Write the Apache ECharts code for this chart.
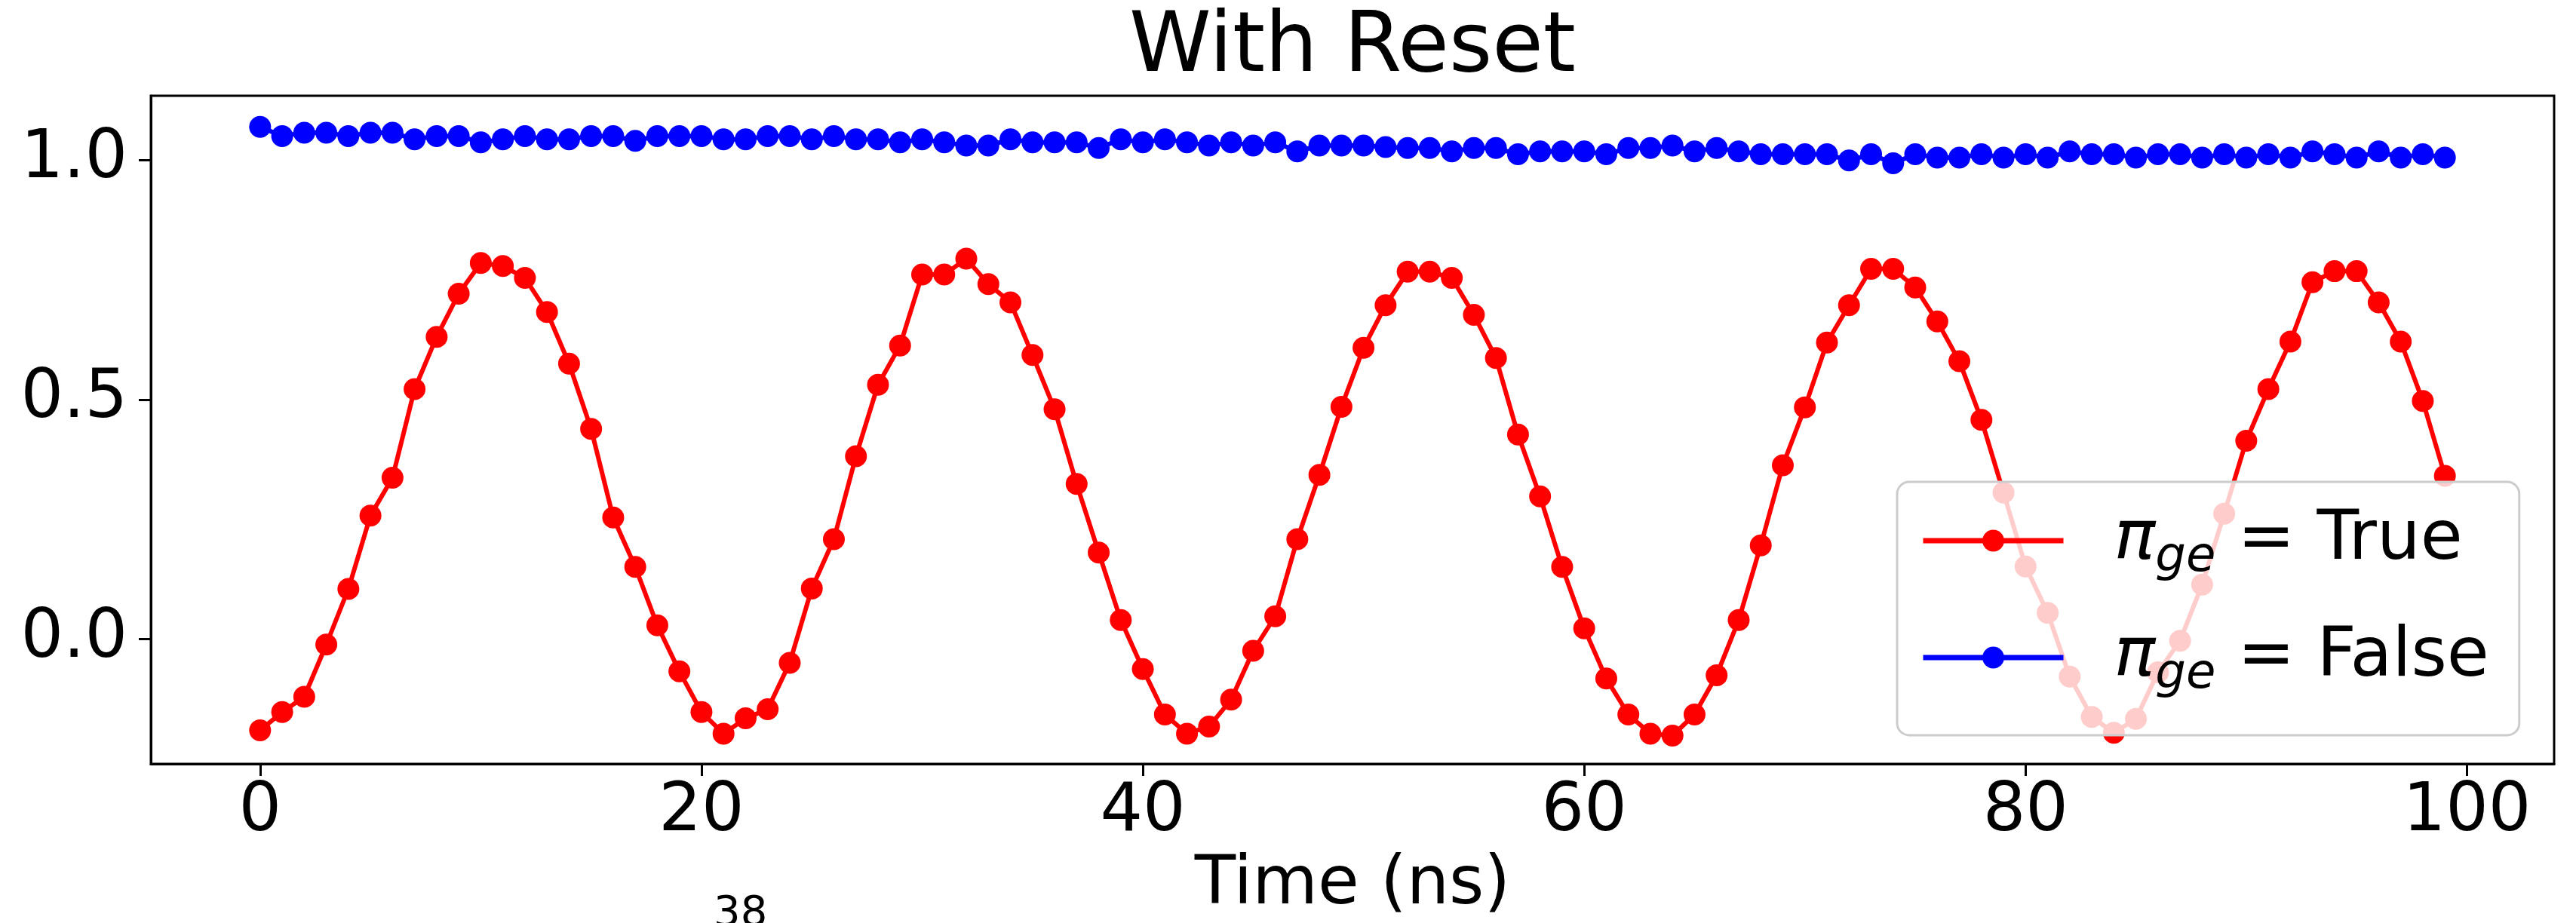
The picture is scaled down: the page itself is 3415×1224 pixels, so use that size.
<!DOCTYPE html>
<html><head><meta charset="utf-8">
<script src="https://cdn.jsdelivr.net/npm/echarts@6/dist/echarts.min.js"></script>
<style>html,body{margin:0;padding:0;background:#fff}#c{width:3415px;height:1224px}</style>
</head><body><div id="c"></div>
<script>
const titleText = 'With Reset';
const xAxisName = 'Time (ns)';
const timeNs = [0,1,2,3,4,5,6,7,8,9,10,11,12,13,14,15,16,17,18,19,20,21,22,23,24,25,26,27,28,29,30,31,32,33,34,35,36,37,38,39,40,41,42,43,44,45,46,47,48,49,50,51,52,53,54,55,56,57,58,59,60,61,62,63,64,65,66,67,68,69,70,71,72,73,74,75,76,77,78,79,80,81,82,83,84,85,86,87,88,89,90,91,92,93,94,95,96,97,98,99];
const piTrue = [-0.190,-0.152,-0.120,-0.011,0.105,0.258,0.337,0.522,0.631,0.721,0.785,0.779,0.754,0.683,0.575,0.439,0.254,0.151,0.029,-0.067,-0.152,-0.197,-0.165,-0.146,-0.049,0.106,0.209,0.382,0.531,0.613,0.761,0.761,0.794,0.741,0.703,0.593,0.480,0.324,0.181,0.040,-0.062,-0.157,-0.197,-0.182,-0.126,-0.024,0.048,0.209,0.343,0.485,0.608,0.697,0.767,0.767,0.754,0.677,0.587,0.427,0.298,0.151,0.023,-0.082,-0.157,-0.197,-0.201,-0.157,-0.075,0.040,0.196,0.363,0.484,0.619,0.697,0.773,0.773,0.734,0.663,0.580,0.458,0.306,0.152,0.055,-0.078,-0.162,-0.195,-0.166,-0.069,-0.003,0.114,0.262,0.414,0.522,0.621,0.745,0.768,0.768,0.703,0.621,0.497,0.341];
const piFalse = [1.069,1.050,1.057,1.057,1.050,1.057,1.057,1.043,1.050,1.050,1.037,1.043,1.050,1.043,1.043,1.050,1.050,1.040,1.050,1.050,1.050,1.043,1.043,1.050,1.050,1.043,1.050,1.043,1.043,1.037,1.043,1.037,1.030,1.030,1.043,1.037,1.037,1.037,1.025,1.043,1.037,1.043,1.037,1.030,1.037,1.030,1.037,1.018,1.030,1.030,1.030,1.027,1.025,1.025,1.018,1.025,1.025,1.012,1.018,1.018,1.018,1.012,1.025,1.025,1.030,1.018,1.025,1.018,1.012,1.012,1.012,1.012,0.999,1.012,0.993,1.012,1.005,1.005,1.012,1.005,1.012,1.005,1.018,1.012,1.012,1.005,1.012,1.012,1.005,1.012,1.005,1.012,1.005,1.018,1.012,1.005,1.018,1.005,1.012,1.005];
const xTicks = [0,20,40,60,80,100];
const yTicks = [0,0.5,1.0];
const seriesNames = ['π_ge = True','π_ge = False'];
const seriesColors = ['#ff0000','#0000ff'];
const seriesValues = [piTrue, piFalse];

const FONT = 'DejaVu Sans';
const chart = echarts.init(document.getElementById('c'), null, {renderer:'canvas'});
chart.setOption({
  animation: false,
  backgroundColor: '#ffffff',
  title: {
    text: titleText, left: 1793, top: 10, padding: 0, textAlign: 'center',
    textStyle: {fontFamily: FONT, fontSize: 110, fontWeight: 'normal', color: '#000'}
  },
  grid: {left: 200, right: 29, top: 127, bottom: 208, show: true, borderColor: '#000', borderWidth: 3, backgroundColor: 'transparent'},
  xAxis: {
    type: 'value', min: -4.95, max: 103.95,
    name: xAxisName, nameLocation: 'middle', nameGap: 117,
    nameTextStyle: {fontFamily: FONT, fontSize: 89, color: '#000'},
    axisLine: {show: true, onZero: false, lineStyle: {color: '#000', width: 3}},
    axisTick: {show: true, inside: false, length: 16, lineStyle: {color: '#000', width: 3}, customValues: xTicks},
    axisLabel: {show: true, margin: 20, fontFamily: FONT, fontSize: 89, color: '#000', customValues: xTicks},
    splitLine: {show: false}
  },
  yAxis: {
    type: 'value', min: -0.26, max: 1.134,
    axisLine: {show: true, onZero: false, lineStyle: {color: '#000', width: 3}},
    axisTick: {show: true, inside: false, length: 16, lineStyle: {color: '#000', width: 3}, customValues: yTicks},
    axisLabel: {show: true, margin: 31, fontFamily: FONT, fontSize: 89, color: '#000', customValues: yTicks,
      formatter: v => Number(v).toFixed(1)},
    splitLine: {show: false}
  },
  legend: {
    orient: 'vertical', left: 2515, top: 639,
    padding: [23, 40, 48, 31],
    itemWidth: 186, itemHeight: 36, itemGap: 45,
    backgroundColor: 'rgba(255,255,255,0.8)', borderColor: '#cccccc', borderWidth: 3, borderRadius: 16,
    lineStyle: {width: 7},
    data: seriesNames,
    formatter: function (name) {
      const m = name.match(/^π_ge = (.*)$/);
      return '{pi|π}{sub|ge}{txt| = ' + (m ? m[1] : name) + '}';
    },
    textStyle: {
      color: '#000', fontSize: 91, fontFamily: FONT, lineHeight: 110,
      rich: {
        pi: {fontSize: 91, fontStyle: 'italic', fontFamily: FONT, lineHeight: 110, padding: [0, 0, 0, 62], color: '#000'},
        sub: {fontSize: 64, fontStyle: 'italic', fontFamily: FONT, lineHeight: 70, verticalAlign: 'bottom', color: '#000'},
        txt: {fontSize: 91, fontFamily: FONT, lineHeight: 110, color: '#000'}
      }
    }
  },
  graphic: [
    {type: 'text', left: 946, top: 1184, silent: true,
     style: {text: '38', font: '56px "DejaVu Sans"', fill: '#000'}}
  ],
  series: seriesNames.map((nm, k) => ({
    name: nm, type: 'line',
    data: timeNs.map((t, i) => [t, seriesValues[k][i]]),
    symbol: 'circle', symbolSize: 29, showSymbol: true,
    itemStyle: {color: seriesColors[k]},
    lineStyle: {color: seriesColors[k], width: 6},
    emphasis: {disabled: true}
  }))
});
</script></body></html>
